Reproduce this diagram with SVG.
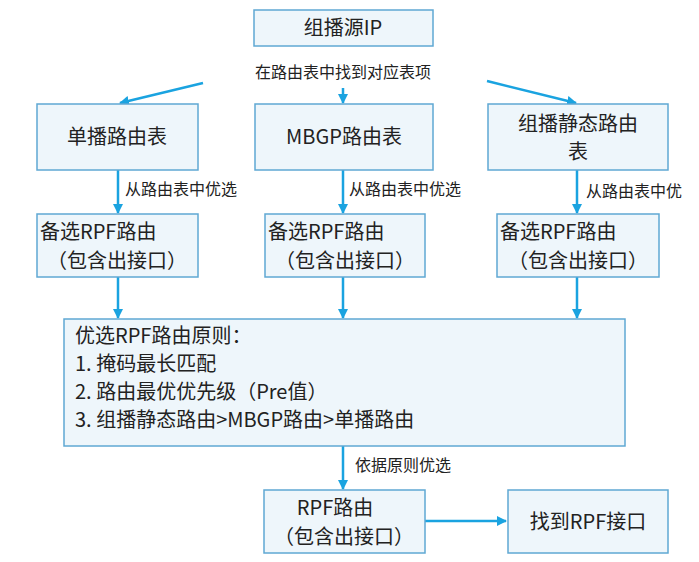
<svg xmlns="http://www.w3.org/2000/svg" width="699" height="562" viewBox="0 0 699 562">
<defs>
<style>
.b{fill:#eef6fb;stroke:#5fa8d3;stroke-width:1.5}
.t{font-family:"Noto Sans CJK SC",sans-serif;font-size:20px;fill:#222}
.s{font-family:"Noto Sans CJK SC",sans-serif;font-size:16px;fill:#222}
.c{stroke:#1aa3e0;stroke-width:2.5;fill:none;marker-end:url(#a)}
</style>
<marker id="a" viewBox="0 0 10 10" refX="9" refY="5" markerWidth="4" markerHeight="4" orient="auto"><path d="M0,0L10,5L0,10z" fill="#1aa3e0"/></marker>
</defs>
<rect width="699" height="562" fill="#fff"/>
<g id="connectors">
<path class="c" d="M203,83L120,103"/>
<path class="c" d="M343,88V103"/>
<path class="c" d="M487,81L576,103"/>
<path class="c" d="M118,170V213"/>
<path class="c" d="M343,170V213"/>
<path class="c" d="M577,170V213"/>
<path class="c" d="M118,277V318"/>
<path class="c" d="M343,277V318"/>
<path class="c" d="M577,277V318"/>
<path class="c" d="M343,446V489"/>
<path class="c" d="M425,521H506"/>
<text class="s" x="343" y="78" text-anchor="middle">在路由表中找到对应表项</text>
<text class="s" x="125" y="195">从路由表中优选</text>
<text class="s" x="349" y="195">从路由表中优选</text>
<text class="s" x="586" y="197">从路由表中优</text>
<text class="s" x="355" y="471">依据原则优选</text>
</g>
<g id="n1"><rect class="b" x="254" y="10" width="179" height="36"/><text class="t" x="343" y="35" text-anchor="middle">组播源IP</text></g>
<g id="n2"><rect class="b" x="37" y="104" width="161" height="66"/><text class="t" x="117" y="144" text-anchor="middle">单播路由表</text></g>
<g id="n3"><rect class="b" x="255" y="104" width="178" height="66"/><text class="t" x="344" y="144" text-anchor="middle">MBGP路由表</text></g>
<g id="n4"><rect class="b" x="488" y="104" width="180" height="66"/><text class="t" x="578" y="131" text-anchor="middle">组播静态路由</text><text class="t" x="578" y="159" text-anchor="middle">表</text></g>
<g id="n5"><rect class="b" x="37" y="214" width="161" height="63"/><text class="t" x="40" y="239">备选RPF路由</text><text class="t" x="117" y="268" text-anchor="middle">（包含出接口）</text></g>
<g id="n6"><rect class="b" x="265" y="214" width="160" height="63"/><text class="t" x="268" y="239">备选RPF路由</text><text class="t" x="345" y="268" text-anchor="middle">（包含出接口）</text></g>
<g id="n7"><rect class="b" x="497" y="214" width="162" height="63"/><text class="t" x="500" y="239">备选RPF路由</text><text class="t" x="578" y="268" text-anchor="middle">（包含出接口）</text></g>
<g id="n8"><rect class="b" x="64" y="319" width="561" height="127"/>
<text class="t" x="75" y="343">优选RPF路由原则：</text>
<text class="t" x="75" y="371">1. 掩码最长匹配</text>
<text class="t" x="75" y="399">2. 路由最优优先级（Pre值）</text>
<text class="t" x="75" y="427">3. 组播静态路由&gt;MBGP路由&gt;单播路由</text></g>
<g id="n9"><rect class="b" x="264" y="490" width="161" height="63"/><text class="t" x="335" y="515" text-anchor="middle">RPF路由</text><text class="t" x="344" y="544" text-anchor="middle">（包含出接口）</text></g>
<g id="n10"><rect class="b" x="508" y="490" width="160" height="63"/><text class="t" x="588" y="529" text-anchor="middle">找到RPF接口</text></g>
</svg>
